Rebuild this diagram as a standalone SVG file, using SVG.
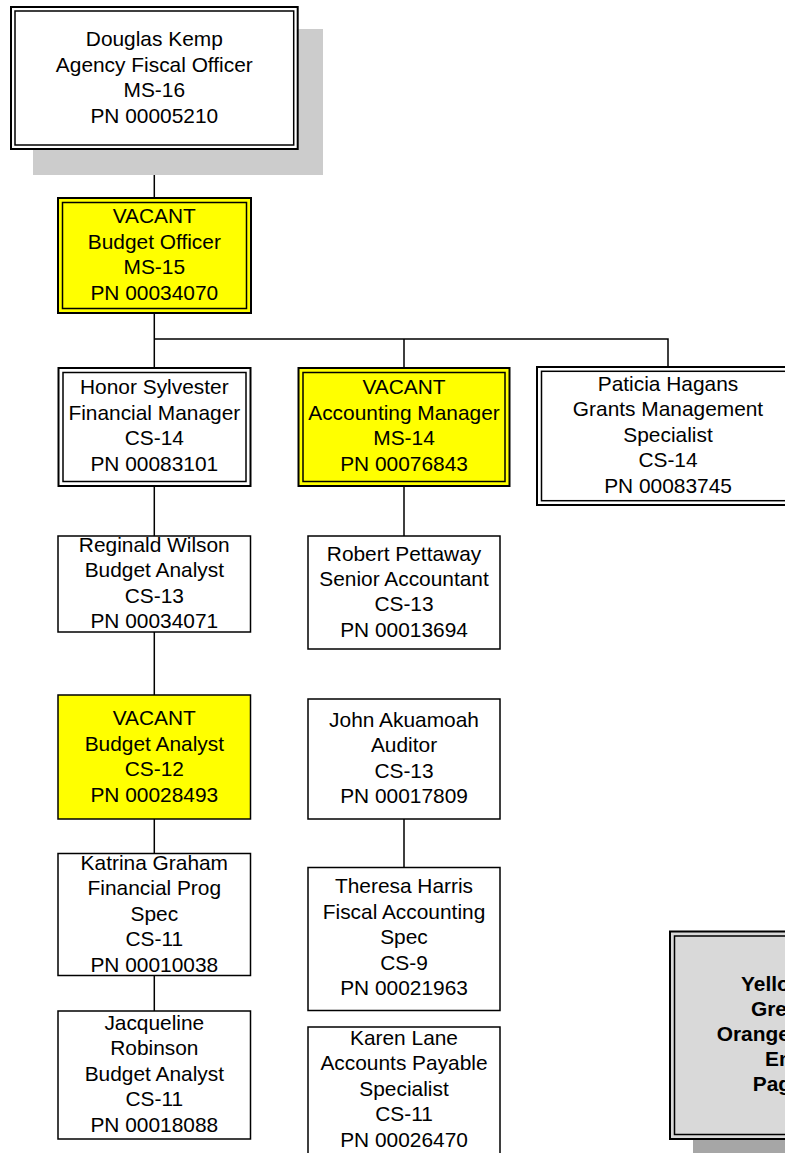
<svg xmlns="http://www.w3.org/2000/svg" width="785" height="1153" viewBox="0 0 785 1153">
<style>
text{font-family:"Liberation Sans",Arial,sans-serif;font-size:20px;fill:#000;text-anchor:middle}
.b{font-weight:bold;text-anchor:start}
.o{fill:none;stroke:#000;stroke-width:2}
.i{fill:none;stroke:#000;stroke-width:1.5}
.s{stroke:#000;stroke-width:1.5}
.w{fill:#fff}
.y{fill:#ffff00}
.c{fill:none;stroke:#000;stroke-width:1.5}
</style>
<rect width="785" height="1153" fill="#fff"/>
<g id="connectors">
<path class="c" d="M154.3 150V198M154.3 313V368M154.3 339H668V367M404 339V368M154.3 486V536M404 486V536M154.3 632V695M154.3 819V853.5M154.3 975.7V1011M404 819V867.5"/>
</g>
<g id="n-kemp">
<rect x="33" y="29" width="290" height="146" fill="#cccccc"/>
<rect class="w" x="11" y="7" width="286.7" height="142"/>
<rect class="o" x="11" y="7" width="286.7" height="142"/>
<rect class="i" x="15" y="11" width="278.7" height="134"/>
<text transform="translate(154.3 46) scale(1.045 1)">Douglas Kemp</text>
<text transform="translate(154.3 71.5) scale(1.045 1)">Agency Fiscal Officer</text>
<text transform="translate(154.3 97) scale(1.045 1)">MS-16</text>
<text transform="translate(154.3 122.5) scale(1.045 1)">PN 00005210</text>
</g>
<g id="n-budget-officer">
<rect class="y" x="58" y="198" width="193" height="115"/>
<rect class="o" x="58" y="198" width="193" height="115"/>
<rect class="i" x="62.5" y="202.5" width="184" height="106"/>
<text transform="translate(154.3 223.3) scale(1.045 1)">VACANT</text>
<text transform="translate(154.3 248.8) scale(1.045 1)">Budget Officer</text>
<text transform="translate(154.3 274.3) scale(1.045 1)">MS-15</text>
<text transform="translate(154.3 299.8) scale(1.045 1)">PN 00034070</text>
</g>
<g id="n-sylvester">
<rect class="w" x="58.5" y="368" width="192" height="118"/>
<rect class="o" x="58.5" y="368" width="192" height="118"/>
<rect class="i" x="63" y="372.5" width="183" height="109"/>
<text transform="translate(154.3 394) scale(1.045 1)">Honor Sylvester</text>
<text transform="translate(154.3 419.5) scale(1.045 1)">Financial Manager</text>
<text transform="translate(154.3 445) scale(1.045 1)">CS-14</text>
<text transform="translate(154.3 470.5) scale(1.045 1)">PN 00083101</text>
</g>
<g id="n-accounting-manager">
<rect class="y" x="298.5" y="368" width="211" height="118"/>
<rect class="o" x="298.5" y="368" width="211" height="118"/>
<rect class="i" x="303" y="372.5" width="202" height="109"/>
<text transform="translate(404 394) scale(1.045 1)">VACANT</text>
<text transform="translate(404 419.5) scale(1.045 1)">Accounting Manager</text>
<text transform="translate(404 445) scale(1.045 1)">MS-14</text>
<text transform="translate(404 470.5) scale(1.045 1)">PN 00076843</text>
</g>
<g id="n-hagans">
<rect class="w" x="537" y="367" width="262" height="138"/>
<rect class="o" x="537" y="367" width="262" height="138"/>
<rect class="i" x="541.5" y="371.3" width="253" height="129.4"/>
<text transform="translate(668 391) scale(1.045 1)">Paticia Hagans</text>
<text transform="translate(668 416.4) scale(1.045 1)">Grants Management</text>
<text transform="translate(668 441.8) scale(1.045 1)">Specialist</text>
<text transform="translate(668 467.2) scale(1.045 1)">CS-14</text>
<text transform="translate(668 492.6) scale(1.045 1)">PN 00083745</text>
</g>
<g id="n-wilson">
<rect class="w s" x="58" y="536" width="192.5" height="96"/>
<text transform="translate(154.3 551.7) scale(1.045 1)">Reginald Wilson</text>
<text transform="translate(154.3 577.2) scale(1.045 1)">Budget Analyst</text>
<text transform="translate(154.3 602.7) scale(1.045 1)">CS-13</text>
<text transform="translate(154.3 628) scale(1.045 1)">PN 00034071</text>
</g>
<g id="n-pettaway">
<rect class="w s" x="308" y="536" width="192" height="113"/>
<text transform="translate(404 560.7) scale(1.045 1)">Robert Pettaway</text>
<text transform="translate(404 586) scale(1.045 1)">Senior Accountant</text>
<text transform="translate(404 611.3) scale(1.045 1)">CS-13</text>
<text transform="translate(404 636.8) scale(1.045 1)">PN 00013694</text>
</g>
<g id="n-budget-analyst-vacant">
<rect class="y s" x="58" y="695" width="192.5" height="124"/>
<text transform="translate(154.3 725) scale(1.045 1)">VACANT</text>
<text transform="translate(154.3 750.5) scale(1.045 1)">Budget Analyst</text>
<text transform="translate(154.3 776) scale(1.045 1)">CS-12</text>
<text transform="translate(154.3 801.5) scale(1.045 1)">PN 00028493</text>
</g>
<g id="n-akuamoah">
<rect class="w s" x="308" y="699" width="192" height="120"/>
<text transform="translate(404 726.7) scale(1.045 1)">John Akuamoah</text>
<text transform="translate(404 752.2) scale(1.045 1)">Auditor</text>
<text transform="translate(404 777.7) scale(1.045 1)">CS-13</text>
<text transform="translate(404 803) scale(1.045 1)">PN 00017809</text>
</g>
<g id="n-graham">
<rect class="w s" x="58" y="853.5" width="192.5" height="122"/>
<text transform="translate(154.3 870) scale(1.045 1)">Katrina Graham</text>
<text transform="translate(154.3 895.4) scale(1.045 1)">Financial Prog</text>
<text transform="translate(154.3 920.8) scale(1.045 1)">Spec</text>
<text transform="translate(154.3 946.2) scale(1.045 1)">CS-11</text>
<text transform="translate(154.3 971.6) scale(1.045 1)">PN 00010038</text>
</g>
<g id="n-robinson">
<rect class="w s" x="58" y="1011" width="192.5" height="128"/>
<text transform="translate(154.3 1029.5) scale(1.045 1)">Jacqueline</text>
<text transform="translate(154.3 1055) scale(1.045 1)">Robinson</text>
<text transform="translate(154.3 1080.5) scale(1.045 1)">Budget Analyst</text>
<text transform="translate(154.3 1106) scale(1.045 1)">CS-11</text>
<text transform="translate(154.3 1131.5) scale(1.045 1)">PN 00018088</text>
</g>
<g id="n-harris">
<rect class="w s" x="308" y="867.5" width="192" height="143"/>
<text transform="translate(404 893.3) scale(1.045 1)">Theresa Harris</text>
<text transform="translate(404 918.8) scale(1.045 1)">Fiscal Accounting</text>
<text transform="translate(404 944.3) scale(1.045 1)">Spec</text>
<text transform="translate(404 969.8) scale(1.045 1)">CS-9</text>
<text transform="translate(404 995.3) scale(1.045 1)">PN 00021963</text>
</g>
<g id="n-lane">
<rect class="w s" x="308" y="1027" width="192" height="140"/>
<text transform="translate(404 1045) scale(1.045 1)">Karen Lane</text>
<text transform="translate(404 1070.4) scale(1.045 1)">Accounts Payable</text>
<text transform="translate(404 1095.8) scale(1.045 1)">Specialist</text>
<text transform="translate(404 1121.2) scale(1.045 1)">CS-11</text>
<text transform="translate(404 1146.6) scale(1.045 1)">PN 00026470</text>
</g>
<g id="n-legend">
<rect x="693" y="954" width="200" height="210" fill="#a6a6a6"/>
<rect x="670" y="931.5" width="200" height="207.5" fill="#d9d9d9"/>
<rect class="o" x="670" y="931.5" width="200" height="207.5"/>
<rect class="i" x="674.5" y="936" width="200" height="198.5"/>
<text class="b" transform="translate(741 990.7) scale(1.045 1)">Yello</text>
<text class="b" transform="translate(751 1015.9) scale(1.045 1)">Gre</text>
<text class="b" transform="translate(716.7 1041.3) scale(1.045 1)">Orange</text>
<text class="b" transform="translate(765 1066.3) scale(1.045 1)">En</text>
<text class="b" transform="translate(752.7 1090.7) scale(1.045 1)">Pag</text>
</g>
</svg>
